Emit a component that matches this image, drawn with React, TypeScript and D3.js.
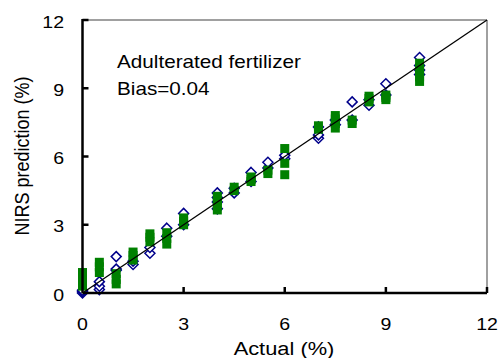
import React from 'react'
import * as d3 from 'd3'

// blue open diamonds
const blueActual = [0, 0, 0, 0.5, 0.5, 0.5, 1, 1, 1, 1.5, 1.5, 2, 2, 2.5, 2.5, 3, 3, 4, 4, 4, 4, 4.5, 4.5, 5, 5, 5.5, 5.5, 6, 6, 7, 7, 7, 7.5, 7.5, 8, 8, 8.5, 8.5, 9, 9, 10, 10, 10, 10]
const bluePred = [0.0, 0.05, 0.12, 0.15, 0.3, 0.5, 1.0, 1.05, 1.6, 1.25, 1.4, 1.75, 2.0, 2.5, 2.85, 3.0, 3.5, 3.7, 4.0, 4.2, 4.4, 4.4, 4.6, 4.9, 5.3, 5.5, 5.75, 5.9, 6.05, 6.8, 6.95, 7.3, 7.4, 7.6, 7.6, 8.4, 8.25, 8.5, 8.7, 9.2, 9.6, 9.8, 10.0, 10.35]

// green filled squares
const greenActual = [0, 0, 0, 0, 0.5, 0.5, 0.5, 1, 1, 1, 1.5, 1.5, 1.5, 2, 2, 2, 2.5, 2.5, 2.5, 3, 3, 3, 4, 4, 4, 4, 4.5, 4.5, 5, 5, 5, 5.5, 5.5, 6, 6, 6, 7, 7, 7.5, 7.5, 7.5, 7.5, 8, 8, 8.5, 8.5, 8.5, 9, 9, 9, 10, 10, 10, 10, 10]
const greenPred = [0.3, 0.55, 0.75, 0.9, 0.9, 1.15, 1.35, 0.4, 0.6, 0.85, 1.45, 1.65, 1.8, 2.25, 2.45, 2.6, 2.15, 2.4, 2.65, 3.0, 3.15, 3.3, 3.65, 3.85, 4.05, 4.25, 4.5, 4.65, 4.9, 5.0, 5.1, 5.25, 5.4, 5.2, 5.7, 6.35, 7.2, 7.35, 7.25, 7.45, 7.65, 7.8, 7.45, 7.6, 8.4, 8.55, 8.65, 8.5, 8.6, 8.7, 9.3, 9.5, 9.7, 9.9, 10.1]

const ticks = [0, 3, 6, 9, 12]

const width = 500
const height = 358
const left = 82.5
const right = 487
const top = 20
const bottom = 293
const sx = 1.15 // text in the reference is stretched sideways
const font = 'Liberation Sans, Arial, sans-serif'

const x = d3.scaleLinear().domain([0, 12]).range([left, right])
const y = d3.scaleLinear().domain([0, 12]).range([bottom, top])

const diamond = (cx: number, cy: number) => {
  const r = 5
  return `M${cx},${cy - r}L${cx + r},${cy}L${cx},${cy + r}L${cx - r},${cy}Z`
}

export default function App() {
  const line = d3.line<number>().x(d => x(d)).y(d => y(d))([0, 12])
  return (
    <svg width={width} height={height} style={{ position: 'absolute', left: 0, top: 0, background: '#fff' }} fontFamily={font}>
      {/* frame */}
      <line x1={left} y1={top} x2={right} y2={top} stroke="#808080" strokeWidth={1.5} />
      <line x1={right} y1={top} x2={right} y2={bottom} stroke="#808080" strokeWidth={1.5} />

      {bluePred.map((p, i) => (
        <path key={'b' + i} d={diamond(x(blueActual[i]), y(p))} fill="#fff" stroke="#00008b" strokeWidth={1.5} />
      ))}
      {greenPred.map((p, i) => (
        <rect key={'g' + i} x={x(greenActual[i]) - 4.5} y={y(p) - 4.5} width={9} height={9} fill="#008000" />
      ))}

      <path d={line || ''} stroke="#000" strokeWidth={1.3} fill="none" />

      {/* axes */}
      <line x1={left} y1={top - 1} x2={left} y2={bottom} stroke="#000" strokeWidth={2.5} />
      <line x1={left} y1={bottom} x2={right} y2={bottom} stroke="#000" strokeWidth={2.5} />
      {ticks.slice(1).map(t => (
        <g key={'t' + t}>
          <line x1={left} y1={y(t)} x2={left + 6} y2={y(t)} stroke="#000" strokeWidth={2.5} />
          <line x1={x(t)} y1={bottom} x2={x(t)} y2={bottom - 6} stroke="#000" strokeWidth={2.5} />
        </g>
      ))}
      {ticks.map(t => (
        <g key={'l' + t} fontSize={17}>
          <text transform={`translate(64,${y(t) + 7.5}) scale(${sx},1)`} textAnchor="end">{t}</text>
          <text transform={`translate(${x(t)},330) scale(${sx},1)`} textAnchor="middle">{t}</text>
        </g>
      ))}

      <text transform={`translate(284,355) scale(${sx},1)`} textAnchor="middle" fontSize={19}>Actual (%)</text>
      <text transform={`translate(29,156) scale(${sx},1) rotate(-90)`} textAnchor="middle" fontSize={18}>NIRS prediction (%)</text>

      <text transform={`translate(117,68) scale(${sx},1)`} fontSize={18}>Adulterated fertilizer</text>
      <text transform={`translate(117,95) scale(${sx},1)`} fontSize={18}>Bias=0.04</text>
    </svg>
  )
}
